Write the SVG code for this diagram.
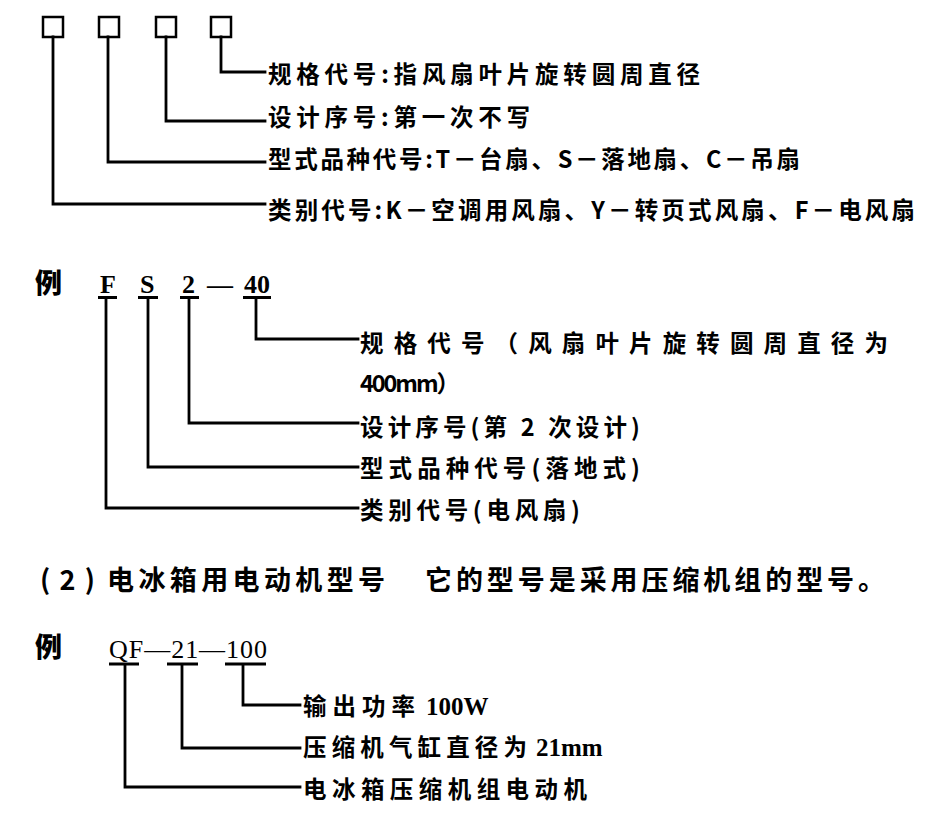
<svg xmlns="http://www.w3.org/2000/svg" width="935" height="827" viewBox="0 0 935 827">
<style>
.bg{fill:#fff}
.box{fill:none;stroke:#000;stroke-width:2.5}
.ln{fill:none;stroke:#000;stroke-width:2.8;stroke-linejoin:miter;stroke-linecap:square}
.ul{fill:none;stroke:#000;stroke-width:3}
.lbl{font-family:"Noto Sans CJK SC","Liberation Sans",sans-serif;font-weight:bold;font-size:23.5px;fill:#000}
.ser{font-family:"Liberation Serif","Noto Sans CJK SC",serif;font-size:26px;fill:#000}
.num{font-family:"Liberation Serif","Noto Sans CJK SC",serif;font-weight:bold;font-size:25px;fill:#000}
.big{font-family:"Noto Sans CJK SC","Liberation Sans",sans-serif;font-weight:bold;font-size:27px;fill:#000}
.li{font-family:"Noto Sans CJK SC","Liberation Sans",sans-serif;font-weight:900;font-size:27px;fill:#000}
</style>
<rect class="bg" width="935" height="827"/>

<!-- Section 1 -->
<g id="boxes">
<rect class="box" x="43" y="17" width="20" height="20"/>
<rect class="box" x="99" y="17" width="20" height="20"/>
<rect class="box" x="156" y="17" width="20" height="20"/>
<rect class="box" x="211" y="17" width="20" height="20"/>
</g>
<g id="connectors1">
<path class="ln" d="M221 37 V72 H265"/>
<path class="ln" d="M166 37 V121 H265"/>
<path class="ln" d="M108 37 V162 H265"/>
<path class="ln" d="M53 37 V204 H265"/>
</g>
<g id="n1-spec"><text class="lbl" x="268" y="83" textLength="432">规格代号:指风扇叶片旋转圆周直径</text></g>
<g id="n1-design"><text class="lbl" x="268" y="126" textLength="262">设计序号:第一次不写</text></g>
<g id="n1-type"><text class="lbl" x="268" y="168" textLength="532">型式品种代号:T－台扇、S－落地扇、C－吊扇</text></g>
<g id="n1-class"><text class="lbl" x="268" y="219" textLength="647">类别代号:K－空调用风扇、Y－转页式风扇、F－电风扇</text></g>

<!-- Section 2 -->
<g id="ex1-head">
<text class="li" x="35" y="293">例</text>
<text class="ser" font-weight="bold" x="100" y="293">F</text>
<text class="ser" font-weight="bold" x="140" y="293">S</text>
<text class="ser" font-weight="bold" x="182" y="293">2</text>
<text class="ser" font-weight="bold" x="207" y="293">—</text>
<text class="ser" font-weight="bold" x="244" y="293">40</text>
</g>
<g id="connectors2">
<path class="ul" d="M98 297.5 H117 M138 297.5 H158 M180 297.5 H199 M243 297.5 H271"/>
<path class="ln" d="M256 298 V339 H358"/>
<path class="ln" d="M189 298 V423 H358"/>
<path class="ln" d="M148 298 V467 H358"/>
<path class="ln" d="M106 298 V508 H358"/>
</g>
<g id="n2-spec">
<text class="lbl" x="360" y="352" textLength="528">规格代号（风扇叶片旋转圆周直径为</text>
<text class="lbl" x="360" y="392" textLength="100">400mm）</text>
</g>
<g id="n2-design"><text class="lbl" x="360" y="436" textLength="280">设计序号(第 2 次设计)</text></g>
<g id="n2-type"><text class="lbl" x="360" y="477" textLength="280">型式品种代号(落地式)</text></g>
<g id="n2-class"><text class="lbl" x="360" y="519" textLength="220">类别代号(电风扇)</text></g>

<!-- Section 3 -->
<g id="heading2">
<text class="big" x="40" y="590" font-size="29" textLength="55">(2)</text>
<text class="big" x="107" y="590" textLength="278">电冰箱用电动机型号</text>
<text class="big" x="425" y="590" textLength="460">它的型号是采用压缩机组的型号。</text>
</g>

<!-- Section 4 -->
<g id="ex2-head">
<text class="li" x="35" y="657">例</text>
<text class="ser" x="109" y="658" textLength="158">QF—21—100</text>
</g>
<g id="connectors3">
<path class="ul" d="M109 664 H139 M167 664 H198 M225 664 H266"/>
<path class="ln" d="M243 665 V705 H300"/>
<path class="ln" d="M182 665 V748 H300"/>
<path class="ln" d="M125 665 V787 H300"/>
</g>
<g id="n3-power"><text class="lbl" x="303" y="715"><tspan textLength="112">输出功率</tspan><tspan class="num" x="426">100W</tspan></text></g>
<g id="n3-bore"><text class="lbl" x="303" y="756"><tspan textLength="224">压缩机气缸直径为</tspan><tspan class="num" x="536">21mm</tspan></text></g>
<g id="n3-motor"><text class="lbl" x="303" y="798" textLength="284">电冰箱压缩机组电动机</text></g>
</svg>
